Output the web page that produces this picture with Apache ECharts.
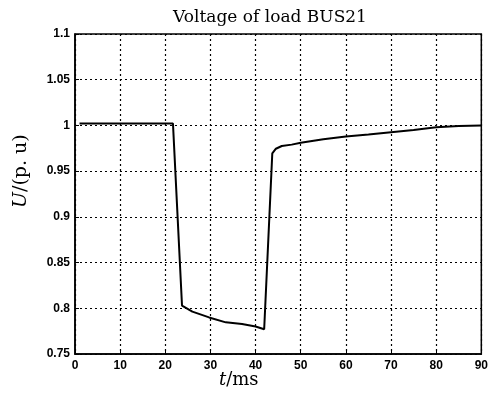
<!DOCTYPE html>
<html>
<head>
<meta charset="utf-8">
<script src="https://cdn.jsdelivr.net/npm/echarts@6/dist/echarts.min.js"></script>
<style>html,body{margin:0;padding:0;background:#fff}#c{width:491px;height:400px}</style>
</head>
<body>
<div id="c"></div>
<script>
var titleText = 'Voltage of load BUS21';
var tMs = [1, 21.7, 23.7, 26, 29.7, 33.4, 37, 40, 41.9, 43.7, 44.5, 45.8, 48, 50, 55, 60, 65, 70, 75, 80, 85, 90];
var uPu = [1.002, 1.002, 0.803, 0.7963, 0.790, 0.7846, 0.7828, 0.780, 0.777, 0.9695, 0.9745, 0.9775, 0.979, 0.981, 0.985, 0.988, 0.990, 0.9925, 0.995, 0.998, 0.9995, 1.000];
var yTickLabels = {'0.75':'0.75','0.8':'0.8','0.85':'0.85','0.9':'0.9','0.95':'0.95','1':'1','1.05':'1.05','1.1':'1.1'};

var chart = echarts.init(document.getElementById('c'));
var data = tMs.map(function(t, i){ return [t, uPu[i]]; });
chart.setOption({
  animation: false,
  backgroundColor: '#fff',
  title: {
    text: titleText, left: 265, textAlign: 'center', top: 4,
    textStyle: {fontFamily: 'DejaVu Serif', fontSize: 17, fontWeight: 'normal', color: '#000'}
  },
  grid: {left: 75, right: 7, top: 34, bottom: 46, show: true, borderColor: '#000', borderWidth: 1.5, backgroundColor: 'transparent'},
  xAxis: {
    type: 'value', min: 0, max: 90, interval: 10,
    axisLine: {show: true, lineStyle: {color: '#000', width: 1.5}},
    axisTick: {show: true, inside: true, length: 4, lineStyle: {color: '#000'}},
    axisLabel: {color: '#000', fontFamily: 'Liberation Sans', fontWeight: 'bold', fontSize: 12, margin: 6},
    splitLine: {show: true, lineStyle: {color: '#000', type: [2, 3], width: 1.2}}
  },
  yAxis: {
    type: 'value', min: 0.75, max: 1.1, interval: 0.05,
    axisLine: {show: true, lineStyle: {color: '#000', width: 1.5}},
    axisTick: {show: true, inside: true, length: 4, lineStyle: {color: '#000'}},
    axisLabel: {color: '#000', fontFamily: 'Liberation Sans', fontWeight: 'bold', fontSize: 12, margin: 5,
      formatter: function(v){ var k = String(Math.round(v*100)/100); return yTickLabels[k] || k; }},
    splitLine: {show: true, lineStyle: {color: '#000', type: [2, 3], width: 1.2}}
  },
  graphic: [
    {type: 'text', left: 219, top: 371, style: {text: '{i|t}/ms', rich: {i: {fontStyle: 'italic', fontFamily: 'DejaVu Serif', fontSize: 18, fill: '#000'}}, fontFamily: 'DejaVu Serif', fontSize: 18, fill: '#000'}},
    {type: 'text', x: 12, y: 208, rotation: Math.PI/2, style: {text: '{i|U}/(p. u)', rich: {i: {fontStyle: 'italic', fontFamily: 'DejaVu Serif', fontSize: 19, fill: '#000'}}, fontFamily: 'DejaVu Serif', fontSize: 19, fill: '#000'}}
  ],
  series: [{
    type: 'line', data: data, showSymbol: false, symbol: 'none',
    lineStyle: {color: '#000', width: 2}
  }]
});
</script>
</body>
</html>
